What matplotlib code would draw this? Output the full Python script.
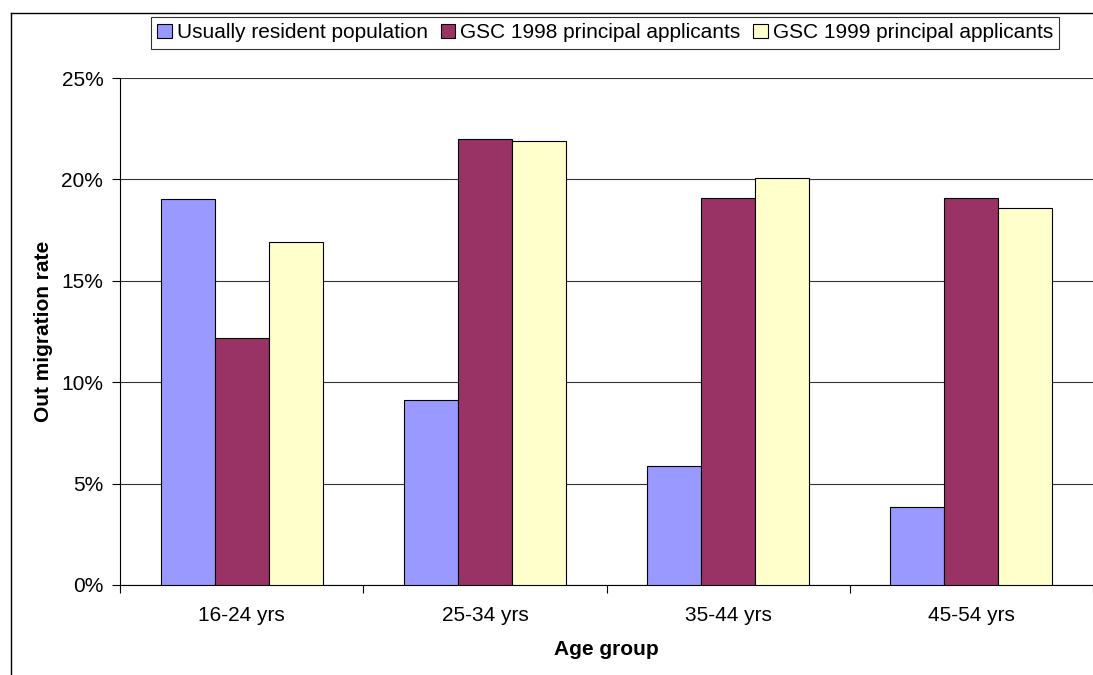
import numpy as np
import matplotlib.pyplot as plt
from matplotlib.ticker import PercentFormatter
from matplotlib.lines import Line2D

plt.rcParams['font.family'] = ['Liberation Sans', 'DejaVu Sans']

# Data
groups = ['16-24 yrs', '25-34 yrs', '35-44 yrs', '45-54 yrs']
resident = [19.05, 9.1, 5.85, 3.85]
gsc_1998 = [12.2, 22.0, 19.1, 19.1]
gsc_1999 = [16.9, 21.9, 20.05, 18.6]

labels = ['Usually resident population', 'GSC 1998 principal applicants',
          'GSC 1999 principal applicants']
colors = ['#9999ff', '#993366', '#ffffcc']

fig = plt.figure(figsize=(10.93, 6.75), dpi=100)
ax = fig.add_axes([120 / 1093, 1 - 585 / 675, 973 / 1093, 507 / 675])

x = np.arange(len(groups))
w = 0.222
for k, (vals, lab, col) in enumerate(zip([resident, gsc_1998, gsc_1999], labels, colors)):
    ax.bar(x + (k - 1) * w, vals, width=w, color=col, edgecolor='black',
           linewidth=0.8, label=lab, zorder=3)

ax.set_xlim(-0.5, len(groups) - 0.5)
ax.set_ylim(0, 25)
ax.set_yticks(np.arange(0, 26, 5))
ax.yaxis.set_major_formatter(PercentFormatter(decimals=0))
ax.yaxis.grid(True, color='#333333', linewidth=0.8, zorder=0)
ax.set_xticks(x)
ax.set_xticklabels(groups)
ax.set_xticks(np.arange(len(groups) + 1) - 0.5, minor=True)
ax.tick_params(axis='x', which='major', length=0, pad=15, labelsize=15)
ax.tick_params(axis='x', which='minor', length=6, width=0.8)
ax.tick_params(axis='y', length=6, width=0.8, labelsize=15, pad=6)

for side in ['top', 'right']:
    ax.spines[side].set_visible(False)
ax.spines['left'].set_linewidth(0.8)
ax.spines['bottom'].set_linewidth(0.8)

ax.set_xlabel('Age group', fontsize=15, fontweight='bold', labelpad=11)
ax.set_ylabel('Out migration rate', fontsize=15, fontweight='bold', labelpad=6)

leg = fig.legend(loc='upper left', bbox_to_anchor=(151 / 1093, 1 - 17 / 675), ncol=3,
                 fontsize=15, frameon=True, fancybox=False, edgecolor='black',
                 handlelength=0.7, handleheight=0.7, handletextpad=0.25,
                 columnspacing=0.6, borderpad=0.3, borderaxespad=0)
leg.get_frame().set_linewidth(0.8)

# outer chart border (top and left edges visible)
fig.add_artist(Line2D([11 / 1093, 1], [1 - 13 / 675, 1 - 13 / 675], color='black', lw=1))
fig.add_artist(Line2D([11 / 1093, 11 / 1093], [0, 1 - 13 / 675], color='black', lw=1))

fig.savefig('out.png', dpi=100)
